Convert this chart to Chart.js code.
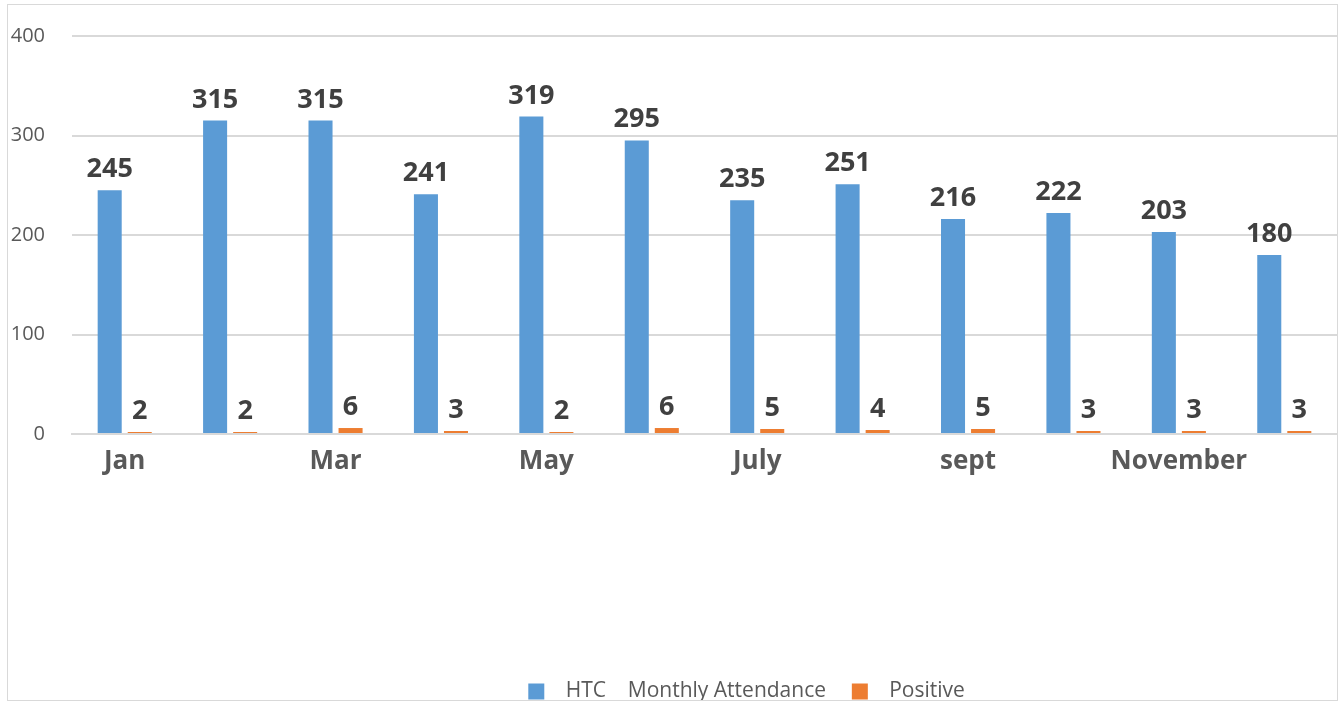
<!DOCTYPE html>
<html>
<head>
<meta charset="utf-8">
<script src="https://cdn.jsdelivr.net/npm/chart.js@4/dist/chart.umd.min.js"></script>
<style>
  html, body { margin: 0; padding: 0; background: #fff; }
  #wrap { position: absolute; left: 7px; top: 4px; width: 1329px; height: 695px; border: 1px solid #d9d9d9; }
  canvas { display: block; }
</style>
</head>
<body>
<div id="wrap"><canvas id="c" width="1329" height="695"></canvas></div>
<script>
const months = ['Jan', 'Feb', 'Mar', 'Apr', 'May', 'June', 'July', 'Aug', 'sept', 'Oct', 'November', 'Dec'];
const attendance = [245, 315, 315, 241, 319, 295, 235, 251, 216, 222, 203, 180];
const positive = [2, 2, 6, 3, 2, 6, 5, 4, 5, 3, 3, 3];
const yTicks = [0, 100, 200, 300, 400];

const FONT = "'Open Sans', 'Noto Sans', sans-serif";

// value labels above each bar
const barLabels = {
  id: 'barLabels',
  afterDatasetsDraw(chart) {
    const ctx = chart.ctx;
    ctx.save();
    ctx.font = 'bold 27px ' + FONT;
    ctx.fillStyle = '#404040';
    ctx.textAlign = 'center';
    ctx.textBaseline = 'alphabetic';
    chart.data.datasets.forEach((ds, i) => {
      chart.getDatasetMeta(i).data.forEach((bar, j) => {
        ctx.fillText(String(ds.data[j]), bar.x, bar.y - 13);
      });
    });
    ctx.restore();
  }
};

// the legend sits a bit right of centre in the original
const legendShift = {
  id: 'legendShift',
  afterLayout(chart) {
    if (chart.legend) {
      chart.legend.left += 85;
      chart.legend.right += 85;
    }
  }
};

new Chart(document.getElementById('c'), {
  type: 'bar',
  data: {
    labels: months,
    datasets: [
      { label: 'HTC    Monthly Attendance', data: attendance, backgroundColor: '#5b9bd5',
        categoryPercentage: 0.57, barPercentage: 0.8 },
      { label: 'Positive', data: positive, backgroundColor: '#ed7d31',
        categoryPercentage: 0.57, barPercentage: 0.8 }
    ]
  },
  options: {
    responsive: false,
    animation: false,
    layout: { padding: { top: 31, right: 0, left: 0, bottom: -12 } },
    plugins: {
      tooltip: { enabled: false },
      legend: {
        position: 'bottom',
        labels: {
          font: { family: FONT, size: 21 },
          color: '#595959',
          boxWidth: 16,
          boxHeight: 16,
          padding: 4,
          generateLabels(chart) {
            return Chart.defaults.plugins.legend.labels.generateLabels(chart).map(l => {
              l.text = '  ' + l.text + '    ';
              l.lineWidth = 0;
              return l;
            });
          }
        }
      }
    },
    scales: {
      x: {
        grid: { display: false, drawTicks: false },
        border: { display: true, color: '#d9d9d9', width: 2 },
        ticks: {
          autoSkip: false,
          maxRotation: 0,
          padding: 12,
          font: { family: FONT, size: 26, weight: 'bold' },
          color: '#595959',
          callback(v, i) { return i % 2 === 0 ? this.getLabelForValue(v) : ''; }
        },
        afterFit(scale) { scale.height = 243; }
      },
      y: {
        min: 0,
        max: 400,
        afterBuildTicks(scale) { scale.ticks = yTicks.map(v => ({ value: v })); },
        grid: { color: '#d9d9d9', lineWidth: 2, drawTicks: true, tickLength: 25, tickColor: 'rgba(0,0,0,0)' },
        border: { display: false },
        ticks: {
          padding: 2,
          font: { family: FONT, size: 20 },
          color: '#595959'
        },
        afterFit(scale) { scale.width = 64; }
      }
    }
  },
  plugins: [barLabels, legendShift]
});
</script>
</body>
</html>
